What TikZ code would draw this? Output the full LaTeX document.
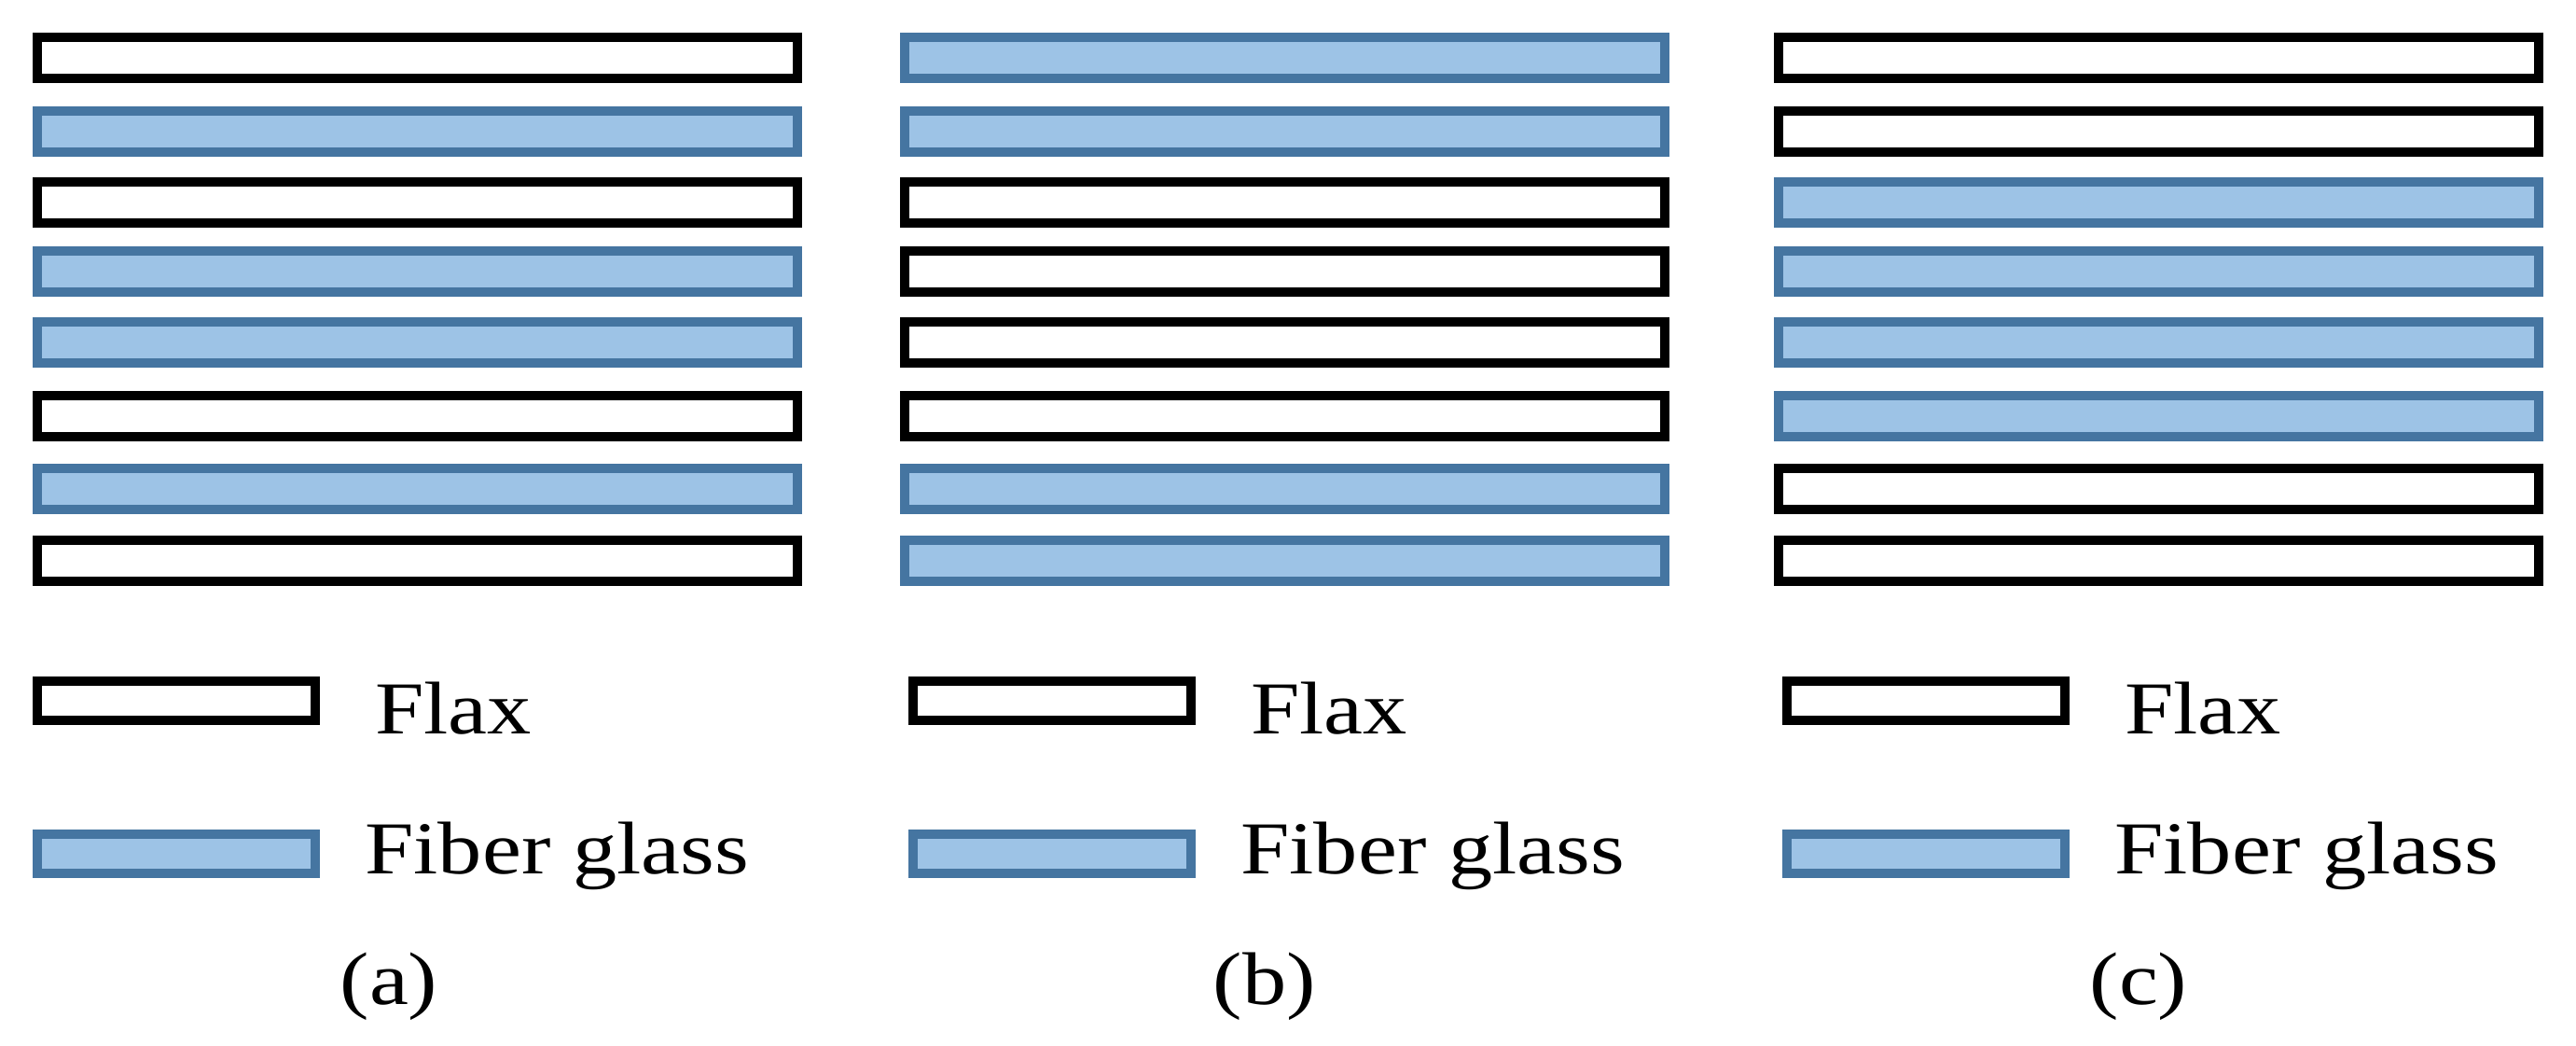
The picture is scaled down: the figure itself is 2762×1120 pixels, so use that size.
\documentclass[tikz,border=0pt]{standalone}
\usepackage{fontspec}
\newfontfamily\lab[FakeStretch=1.18]{Liberation Serif}
\definecolor{gfill}{HTML}{9DC3E6}
\definecolor{gdraw}{HTML}{4575A1}
\begin{document}
\begin{tikzpicture}[x=1pt,y=-1pt,
  bar/.style={draw=black,fill=white,line width=10pt,minimum width=815pt,minimum height=44pt,inner sep=0pt,outer sep=0pt},
  flax/.style={bar},
  glass/.style={bar,draw=gdraw,fill=gfill},
  leg/.style={minimum width=298pt,minimum height=42pt},
  txt/.style={font=\lab\fontsize{80}{88}\selectfont,inner sep=0pt,anchor=base west}]
\useasboundingbox[fill=white] (0,0) rectangle (2762,1120);
\def\tops{35,114,190,264,340,419,497,574}
\foreach \pan/\off/\loff/\pat in {a/0/0/{flax,glass,flax,glass,glass,flax,glass,flax},
                                 b/930/939/{glass,glass,flax,flax,flax,flax,glass,glass},
                                 c/1867/1876/{flax,flax,glass,glass,glass,glass,flax,flax}}{
  \foreach \t [count=\i] in \tops {
    \foreach \s [count=\j] in \pat {
      \ifnum\i=\j \node[\s] (\pan bar\i) at (447.5+\off,\t+27) {}; \fi
    }
  }
  \node[flax,leg] (\pan lf) at (189+\loff,750.5) {};
  \node[glass,leg] (\pan lg) at (189+\loff,914.5) {};
  \node[txt] (\pan tf) at (402+\loff,786) {Flax};
  \node[txt] (\pan tg) at (391+\loff,936) {Fiber glass};
  \node[font=\lab\fontsize{80}{88}\selectfont,inner sep=0pt] (\pan cap) at (417+\loff,1057) {(\pan)};
}
\end{tikzpicture}
\end{document}
